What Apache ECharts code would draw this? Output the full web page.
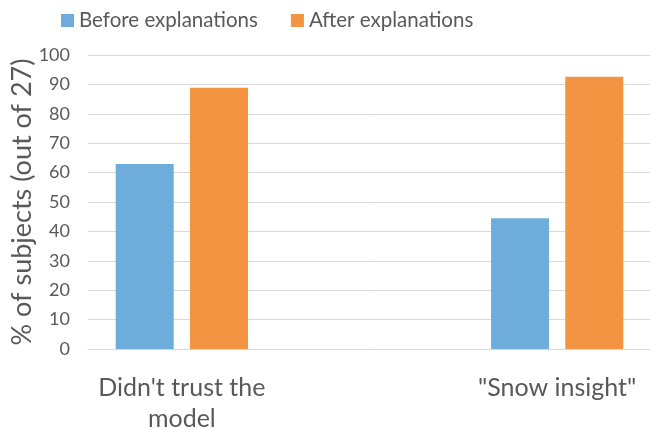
<!DOCTYPE html>
<html>
<head>
<meta charset="utf-8">
<script src="https://cdn.jsdelivr.net/npm/echarts@6/dist/echarts.min.js"></script>
<style>
  html, body { margin: 0; padding: 0; background: #fff; }
  #chart { width: 650px; height: 429px; }
</style>
</head>
<body>
<div id="chart"></div>
<script>
// categories (the middle one is an empty slot, as in the original layout)
const categories = ["Didn't trust the\nmodel", '', '"Snow insight"']
const before = [62.96, null, 44.44]
const after = [88.89, null, 92.59]
const yTicks = { min: 0, max: 100, interval: 10 }

const font = 'Lato'
const grey = '#595959'

let chart = echarts.init(document.getElementById('chart'))

chart.setOption({
    animation: false,
    textStyle: { fontFamily: font },
    legend: {
        top: 5,
        left: 56,
        itemWidth: 13,
        itemHeight: 13,
        itemGap: 33,
        icon: 'rect',
        textStyle: { fontSize: 20.5, color: grey, fontFamily: font },
        data: ['Before explanations', 'After explanations']
    },
    grid: { left: 88, right: -1, top: 55, bottom: 80, containLabel: false, outerBoundsMode: 'none' },
    xAxis: {
        type: 'category',
        data: categories,
        axisLine: { lineStyle: { color: '#d9d9d9', width: 1 } },
        axisTick: { show: false },
        axisLabel: { fontSize: 25, color: grey, margin: 23, lineHeight: 31, fontFamily: font }
    },
    yAxis: {
        type: 'value',
        min: yTicks.min,
        max: yTicks.max,
        interval: yTicks.interval,
        name: '% of subjects (out of 27)',
        nameLocation: 'middle',
        nameGap: 52,
        nameMoveOverlap: false,
        nameTextStyle: { fontSize: 27, color: grey, fontFamily: font },
        axisLine: { show: false },
        axisTick: { show: false },
        axisLabel: { fontSize: 18, color: grey, margin: 18, fontFamily: font },
        splitLine: { lineStyle: { color: '#d9d9d9', width: 1 } }
    },
    series: [
        {
            name: 'Before explanations',
            type: 'bar',
            data: before,
            barWidth: 58,
            barGap: '28%',
            itemStyle: { color: '#6eaddb' }
        },
        {
            name: 'After explanations',
            type: 'bar',
            data: after,
            barWidth: 58,
            itemStyle: { color: '#f29441' }
        }
    ]
})
</script>
</body>
</html>
